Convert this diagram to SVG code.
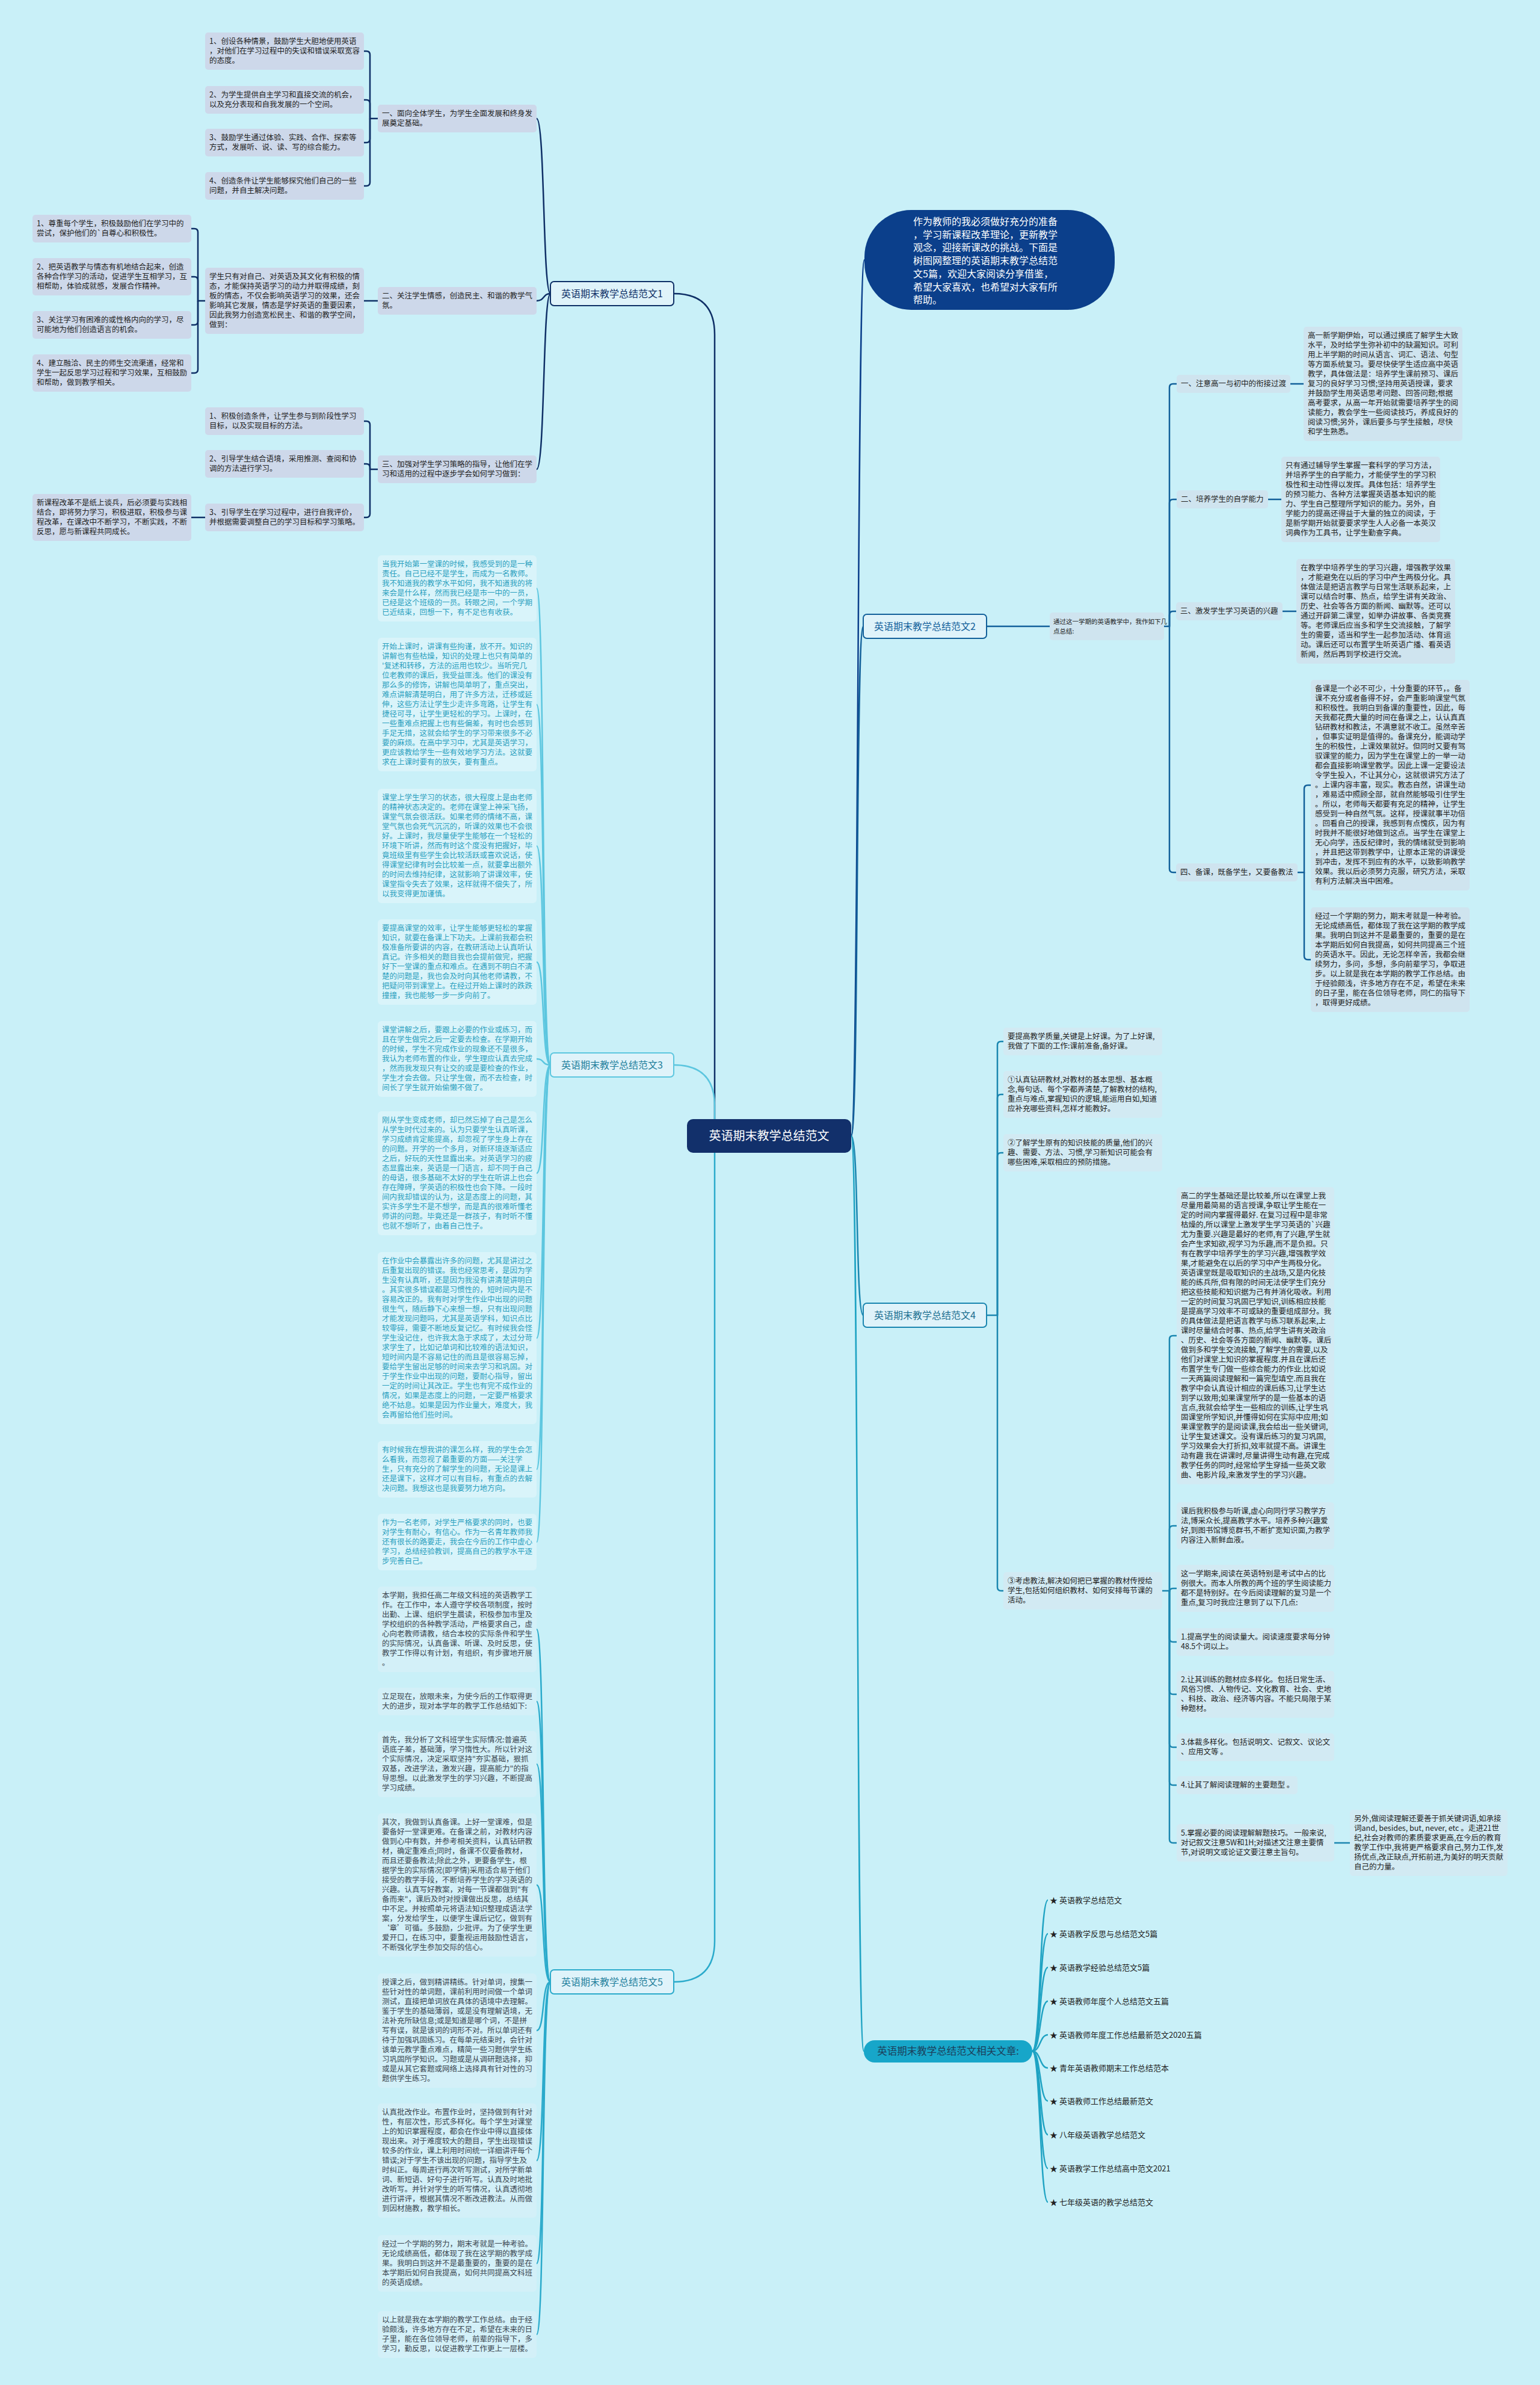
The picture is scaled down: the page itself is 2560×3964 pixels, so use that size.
<svg xmlns="http://www.w3.org/2000/svg" width="2560" height="3964" viewBox="0 0 2560 3964">
<style>
text{font-family:"Noto Sans CJK SC","Liberation Sans",sans-serif;}
.t{font-size:12.5px;fill:#222;}
.t3{font-size:12.5px;fill:#2a9fbe;}
.t5{font-size:12.5px;fill:#3b4650;}
.r1{fill:#cdd8ea;}
.r2{fill:#cfe4ef;}
.r3{fill:#d9f4fa;}
.r4{fill:#d2eaf3;}
.r5{fill:#d3f0f8;}
.c1{fill:none;stroke:#0e2f66;stroke-width:2.5;}
.c2{fill:none;stroke:#12609a;stroke-width:2.5;}
.c3{fill:none;stroke:#5cc6df;stroke-width:2.5;}
.c4{fill:none;stroke:#1b86b0;stroke-width:2.5;}
.c5{fill:none;stroke:#2aaacb;stroke-width:2.5;}
.c6{fill:none;stroke:#1fa3c3;stroke-width:2.5;}
.bn{font-size:16px;text-anchor:middle;}
</style>
<rect x="0" y="0" width="2560" height="3964" fill="#c9f0f8"/>

<g id="connectors">
<path class="c1" d="M1120 488 Q1188 488 1188 556 V1888"/>
<path class="c3" d="M1120 1770 Q1188 1770 1188 1838 V1888"/>
<path class="c5" d="M1120 3294 Q1188 3294 1188 3226 V1888"/>
<path class="c1" d="M1415 1888 C1428 1888 1424 432 1437 432" style="stroke:#0b3f8b"/>
<path class="c2" d="M1415 1888 C1428 1888 1422 1041 1435 1041"/>
<path class="c4" d="M1415 1888 C1428 1888 1422 2186 1435 2186"/>
<path class="c6" d="M1415 1888 C1428 1888 1423 3409 1436 3409"/>
<path class="c1" d="M915 488 C902 488 906 197 892 197"/>
<path class="c1" d="M915 488 C902 488 906 500 892 500"/>
<path class="c1" d="M915 488 C902 488 906 780 892 780"/>
<path class="c1" d="M628 197 H615 V91 Q615 85 609 85 H605"/>
<path class="c1" d="M615 197 V172 Q615 166 609 166 H605"/>
<path class="c1" d="M615 197 V231 Q615 237 609 237 H605"/>
<path class="c1" d="M615 197 V303 Q615 309 609 309 H605"/>
<path class="c1" d="M628 500 H605"/>
<path class="c1" d="M341 500 H329 V386 Q329 380 323 380 H318"/>
<path class="c1" d="M329 500 V466 Q329 460 323 460 H318"/>
<path class="c1" d="M329 500 V534 Q329 540 323 540 H318"/>
<path class="c1" d="M329 500 V614 Q329 620 323 620 H318"/>
<path class="c1" d="M628 780 H615 V706 Q615 700 609 700 H605"/>
<path class="c1" d="M615 780 V777 Q615 771 609 771 H605"/>
<path class="c1" d="M615 780 V854 Q615 860 609 860 H605"/>
<path class="c1" d="M341 860 H318"/>
<path class="c3" d="M915 1770 C900 1770 906 978 892 978"/>
<path class="c3" d="M915 1770 C900 1770 906 1171 892 1171"/>
<path class="c3" d="M915 1770 C900 1770 906 1406 892 1406"/>
<path class="c3" d="M915 1770 C900 1770 906 1599 892 1599"/>
<path class="c3" d="M915 1770 C900 1770 906 1760 892 1760"/>
<path class="c3" d="M915 1770 C900 1770 906 1950 892 1950"/>
<path class="c3" d="M915 1770 C900 1770 906 2224 892 2224"/>
<path class="c3" d="M915 1770 C900 1770 906 2442 892 2442"/>
<path class="c3" d="M915 1770 C900 1770 906 2563 892 2563"/>
<path class="c5" d="M915 3294 C900 3294 906 2708 892 2708"/>
<path class="c5" d="M915 3294 C900 3294 906 2828 892 2828"/>
<path class="c5" d="M915 3294 C900 3294 906 2932 892 2932"/>
<path class="c5" d="M915 3294 C900 3294 906 3133 892 3133"/>
<path class="c5" d="M915 3294 C900 3294 906 3375 892 3375"/>
<path class="c5" d="M915 3294 C900 3294 906 3591 892 3591"/>
<path class="c5" d="M915 3294 C900 3294 906 3762 892 3762"/>
<path class="c5" d="M915 3294 C900 3294 906 3880 892 3880"/>
<path class="c2" d="M1640 1041 H1745"/>
<path class="c2" d="M1935 1041 H1944 V644 Q1944 638 1950 638 H1956"/>
<path class="c2" d="M1944 1041 V836 Q1944 830 1950 830 H1956"/>
<path class="c2" d="M1944 1041 V1022 Q1944 1016 1950 1016 H1955"/>
<path class="c2" d="M1944 1041 V1444 Q1944 1450 1950 1450 H1955"/>
<path class="c2" d="M2145 638 H2167"/>
<path class="c2" d="M2108 830 H2130"/>
<path class="c2" d="M2132 1016 H2155"/>
<path class="c2" d="M2157 1450 H2168 V1311 Q2168 1305 2174 1305 H2179"/>
<path class="c2" d="M2168 1450 V1589 Q2168 1595 2174 1595 H2179"/>
<path class="c4" d="M1640 2186 H1658 V1737 Q1658 1731 1664 1731 H1668"/>
<path class="c4" d="M1658 2186 V1825 Q1658 1819 1664 1819 H1668"/>
<path class="c4" d="M1658 2186 V1922 Q1658 1916 1664 1916 H1668"/>
<path class="c4" d="M1658 2186 V2638 Q1658 2644 1664 2644 H1668"/>
<path class="c4" d="M1932 2644 H1944 V2226 Q1944 2220 1950 2220 H1956"/>
<path class="c4" d="M1944 2644 V2542 Q1944 2536 1950 2536 H1956"/>
<path class="c4" d="M1944 2644 V2646 Q1944 2640 1950 2640 H1956"/>
<path class="c4" d="M1944 2644 V2723 Q1944 2729 1950 2729 H1956"/>
<path class="c4" d="M1944 2644 V2810 Q1944 2816 1950 2816 H1956"/>
<path class="c4" d="M1944 2644 V2898 Q1944 2904 1950 2904 H1956"/>
<path class="c4" d="M1944 2644 V2961 Q1944 2967 1950 2967 H1956"/>
<path class="c4" d="M1944 2644 V3057 Q1944 3063 1950 3063 H1956"/>
<path class="c4" d="M2218 3063 H2244"/>
<path class="c6" d="M1716 3409 C1730 3409 1728 3158 1742 3158"/>
<path class="c6" d="M1716 3409 C1730 3409 1728 3214 1742 3214"/>
<path class="c6" d="M1716 3409 C1730 3409 1728 3270 1742 3270"/>
<path class="c6" d="M1716 3409 C1730 3409 1728 3326 1742 3326"/>
<path class="c6" d="M1716 3409 C1730 3409 1728 3382 1742 3382"/>
<path class="c6" d="M1716 3409 C1730 3409 1728 3437 1742 3437"/>
<path class="c6" d="M1716 3409 C1730 3409 1728 3492 1742 3492"/>
<path class="c6" d="M1716 3409 C1730 3409 1728 3548 1742 3548"/>
<path class="c6" d="M1716 3409 C1730 3409 1728 3604 1742 3604"/>
<path class="c6" d="M1716 3409 C1730 3409 1728 3660 1742 3660"/>
</g>

<g id="center">
<rect x="1142" y="1860" width="273" height="56" rx="10" fill="#12306b"/>
<text x="1278.5" y="1895" style="font-size:20px;fill:#fff;text-anchor:middle">英语期末教学总结范文</text>
</g>

<g id="intro">
<rect x="1437" y="349" width="416" height="166" rx="78" fill="#0b3f8b"/>
<text x="1518" y="374" style="font-size:16px;fill:#fff"><tspan x="1518" dy="0">作为教师的我必须做好充分的准备</tspan><tspan x="1518" dy="21.7">，学习新课程改革理论，更新教学</tspan><tspan x="1518" dy="21.7">观念，迎接新课改的挑战。下面是</tspan><tspan x="1518" dy="21.7">树图网整理的英语期末教学总结范</tspan><tspan x="1518" dy="21.7">文5篇，欢迎大家阅读分享借鉴，</tspan><tspan x="1518" dy="21.7">希望大家喜欢，也希望对大家有所</tspan><tspan x="1518" dy="21.7">帮助。</tspan></text>
</g>

<g id="branch1"><rect x="915" y="468" width="205" height="40" rx="6" fill="#dff3fa" stroke="#0e2f66" stroke-width="2"/><text class="bn" x="1017.5" y="494" style="fill:#0e2f66">英语期末教学总结范文1</text></g>
<g id="branch3"><rect x="915" y="1750" width="205" height="40" rx="6" fill="#dff3fa" stroke="#5cc6df" stroke-width="2"/><text class="bn" x="1017.5" y="1776" style="fill:#1f7f9c">英语期末教学总结范文3</text></g>
<g id="branch5"><rect x="915" y="3274" width="205" height="40" rx="6" fill="#dff3fa" stroke="#2aaacb" stroke-width="2"/><text class="bn" x="1017.5" y="3300" style="fill:#1f7f9c">英语期末教学总结范文5</text></g>
<g id="branch2"><rect x="1435" y="1021" width="205" height="40" rx="6" fill="#dff3fa" stroke="#12609a" stroke-width="2"/><text class="bn" x="1537.5" y="1047" style="fill:#12609a">英语期末教学总结范文2</text></g>
<g id="branch4"><rect x="1435" y="2166" width="205" height="40" rx="6" fill="#dff3fa" stroke="#1b86b0" stroke-width="2"/><text class="bn" x="1537.5" y="2192" style="fill:#1b6f90">英语期末教学总结范文4</text></g>
<g id="branch6"><rect x="1436" y="3391" width="280" height="37" rx="18" fill="#17a6c9"/><text x="1576" y="3415" style="font-size:16.5px;fill:#1c3e5a;text-anchor:middle">英语期末教学总结范文相关文章:</text></g>

<g id="b1-sub1"><rect class="r1" x="628" y="174" width="264" height="46" rx="5"/><text class="t" x="635" y="193"><tspan x="635" dy="0">一、面向全体学生，为学生全面发展和终身发</tspan><tspan x="635" dy="16">展奠定基础。</tspan></text></g>
<g id="b1-s1-c1"><rect class="r1" x="341" y="54" width="264" height="62" rx="5"/><text class="t" x="348" y="73"><tspan x="348" dy="0">1、创设各种情景，鼓励学生大胆地使用英语</tspan><tspan x="348" dy="16">，对他们在学习过程中的失误和错误采取宽容</tspan><tspan x="348" dy="16">的态度。</tspan></text></g>
<g id="b1-s1-c2"><rect class="r1" x="341" y="143" width="264" height="46" rx="5"/><text class="t" x="348" y="162"><tspan x="348" dy="0">2、为学生提供自主学习和直接交流的机会，</tspan><tspan x="348" dy="16">以及充分表现和自我发展的一个空间。</tspan></text></g>
<g id="b1-s1-c3"><rect class="r1" x="341" y="214" width="264" height="46" rx="5"/><text class="t" x="348" y="233"><tspan x="348" dy="0">3、鼓励学生通过体验、实践、合作、探索等</tspan><tspan x="348" dy="16">方式，发展听、说、读、写的综合能力。</tspan></text></g>
<g id="b1-s1-c4"><rect class="r1" x="341" y="286" width="264" height="46" rx="5"/><text class="t" x="348" y="305"><tspan x="348" dy="0">4、创造条件让学生能够探究他们自己的一些</tspan><tspan x="348" dy="16">问题，并自主解决问题。</tspan></text></g>

<g id="b1-sub2"><rect class="r1" x="628" y="477" width="264" height="46" rx="5"/><text class="t" x="635" y="496"><tspan x="635" dy="0">二、关注学生情感，创造民主、和谐的教学气</tspan><tspan x="635" dy="16">氛。</tspan></text></g>
<g id="b1-s2-mid"><rect class="r1" x="341" y="445" width="264" height="110" rx="5"/><text class="t" x="348" y="464"><tspan x="348" dy="0">学生只有对自己、对英语及其文化有积极的情</tspan><tspan x="348" dy="16">态，才能保持英语学习的动力并取得成绩，刻</tspan><tspan x="348" dy="16">板的情态，不仅会影响英语学习的效果，还会</tspan><tspan x="348" dy="16">影响其它发展，情态是学好英语的重要因素，</tspan><tspan x="348" dy="16">因此我努力创造宽松民主、和谐的教学空间，</tspan><tspan x="348" dy="16">做到：</tspan></text></g>
<g id="b1-s2-c1"><rect class="r1" x="54" y="357" width="264" height="46" rx="5"/><text class="t" x="61" y="376"><tspan x="61" dy="0">1、尊重每个学生，积极鼓励他们在学习中的</tspan><tspan x="61" dy="16">尝试，保护他们的`自尊心和积极性。</tspan></text></g>
<g id="b1-s2-c2"><rect class="r1" x="54" y="429" width="264" height="62" rx="5"/><text class="t" x="61" y="448"><tspan x="61" dy="0">2、把英语教学与情态有机地结合起来，创造</tspan><tspan x="61" dy="16">各种合作学习的活动，促进学生互相学习，互</tspan><tspan x="61" dy="16">相帮助，体验成就感，发展合作精神。</tspan></text></g>
<g id="b1-s2-c3"><rect class="r1" x="54" y="517" width="264" height="46" rx="5"/><text class="t" x="61" y="536"><tspan x="61" dy="0">3、关注学习有困难的或性格内向的学习，尽</tspan><tspan x="61" dy="16">可能地为他们创造语言的机会。</tspan></text></g>
<g id="b1-s2-c4"><rect class="r1" x="54" y="589" width="264" height="62" rx="5"/><text class="t" x="61" y="608"><tspan x="61" dy="0">4、建立融洽、民主的师生交流渠道，经常和</tspan><tspan x="61" dy="16">学生一起反思学习过程和学习效果，互相鼓励</tspan><tspan x="61" dy="16">和帮助，做到教学相关。</tspan></text></g>

<g id="b1-sub3"><rect class="r1" x="628" y="757" width="264" height="46" rx="5"/><text class="t" x="635" y="776"><tspan x="635" dy="0">三、加强对学生学习策略的指导，让他们在学</tspan><tspan x="635" dy="16">习和适用的过程中逐步学会如何学习做到：</tspan></text></g>
<g id="b1-s3-c1"><rect class="r1" x="341" y="677" width="264" height="46" rx="5"/><text class="t" x="348" y="696"><tspan x="348" dy="0">1、积极创造条件，让学生参与到阶段性学习</tspan><tspan x="348" dy="16">目标，以及实现目标的方法。</tspan></text></g>
<g id="b1-s3-c2"><rect class="r1" x="341" y="748" width="264" height="46" rx="5"/><text class="t" x="348" y="767"><tspan x="348" dy="0">2、引导学生结合语境，采用推测、查阅和协</tspan><tspan x="348" dy="16">调的方法进行学习。</tspan></text></g>
<g id="b1-s3-c3"><rect class="r1" x="341" y="837" width="264" height="46" rx="5"/><text class="t" x="348" y="856"><tspan x="348" dy="0">3、引导学生在学习过程中，进行自我评价，</tspan><tspan x="348" dy="16">并根据需要调整自己的学习目标和学习策略。</tspan></text></g>
<g id="b1-s3-leaf"><rect class="r1" x="54" y="821" width="264" height="78" rx="5"/><text class="t" x="61" y="840"><tspan x="61" dy="0">新课程改革不是纸上谈兵，后必须要与实践相</tspan><tspan x="61" dy="16">结合，即将努力学习，积极进取，积极参与课</tspan><tspan x="61" dy="16">程改革，在课改中不断学习，不断实践，不断</tspan><tspan x="61" dy="16">反思，愿与新课程共同成长。</tspan></text></g>

<g id="b3-c1"><rect class="r3" x="628" y="923" width="264" height="110" rx="6"/><text class="t3" x="635" y="942"><tspan x="635" dy="0">当我开始第一堂课的时候，我感受到的是一种</tspan><tspan x="635" dy="16">责任。自己已经不是学生，而成为一名教师。</tspan><tspan x="635" dy="16">我不知道我的教学水平如何，我不知道我的将</tspan><tspan x="635" dy="16">来会是什么样，然而我已经是市一中的一员，</tspan><tspan x="635" dy="16">已经是这个班级的一员。转眼之间，一个学期</tspan><tspan x="635" dy="16">已近结束，回想一下，有不足也有收获。</tspan></text></g>
<g id="b3-c2"><rect class="r3" x="628" y="1060" width="264" height="222" rx="6"/><text class="t3" x="635" y="1079"><tspan x="635" dy="0">开始上课时，讲课有些拘谨，放不开。知识的</tspan><tspan x="635" dy="16">讲解也有些枯燥，知识的处理上也只有简单的</tspan><tspan x="635" dy="16">'复述和转移，方法的运用也较少。当听完几</tspan><tspan x="635" dy="16">位老教师的课后，我受益匪浅。他们的课没有</tspan><tspan x="635" dy="16">那么多的修饰，讲解也简单明了，重点突出，</tspan><tspan x="635" dy="16">难点讲解清楚明白，用了许多方法，迁移或延</tspan><tspan x="635" dy="16">伸，这些方法让学生少走许多弯路，让学生有</tspan><tspan x="635" dy="16">捷径可寻，让学生更轻松的学习。上课时，在</tspan><tspan x="635" dy="16">一些重难点把握上也有些偏差，有时也会感到</tspan><tspan x="635" dy="16">手足无措，这就会给学生的学习带来很多不必</tspan><tspan x="635" dy="16">要的麻烦。在高中学习中，尤其是英语学习，</tspan><tspan x="635" dy="16">更应该教给学生一些有效地学习方法。这就要</tspan><tspan x="635" dy="16">求在上课时要有的放矢，要有重点。</tspan></text></g>
<g id="b3-c3"><rect class="r3" x="628" y="1311" width="264" height="190" rx="6"/><text class="t3" x="635" y="1330"><tspan x="635" dy="0">课堂上学生学习的状态，很大程度上是由老师</tspan><tspan x="635" dy="16">的精神状态决定的。老师在课堂上神采飞扬，</tspan><tspan x="635" dy="16">课堂气氛会很活跃。如果老师的情绪不高，课</tspan><tspan x="635" dy="16">堂气氛也会死气沉沉的，听课的效果也不会很</tspan><tspan x="635" dy="16">好。上课时，我尽量使学生能够在一个轻松的</tspan><tspan x="635" dy="16">环境下听讲，然而有时这个度没有把握好，毕</tspan><tspan x="635" dy="16">竟班级里有些学生会比较活跃或喜欢说话，使</tspan><tspan x="635" dy="16">得课堂纪律有时会比较差一点，就要拿出额外</tspan><tspan x="635" dy="16">的时间去维持纪律，这就影响了讲课效率，使</tspan><tspan x="635" dy="16">课堂指令失去了效果，这样就得不偿失了，所</tspan><tspan x="635" dy="16">以我变得更加谨慎。</tspan></text></g>
<g id="b3-c4"><rect class="r3" x="628" y="1528" width="264" height="142" rx="6"/><text class="t3" x="635" y="1547"><tspan x="635" dy="0">要提高课堂的效率，让学生能够更轻松的掌握</tspan><tspan x="635" dy="16">知识，就要在备课上下功夫。上课前我都会积</tspan><tspan x="635" dy="16">极准备所要讲的内容，在教研活动上认真听认</tspan><tspan x="635" dy="16">真记。许多相关的题目我也会提前做完，把握</tspan><tspan x="635" dy="16">好下一堂课的重点和难点。在遇到不明白不清</tspan><tspan x="635" dy="16">楚的问题是，我也会及时向其他老师请教，不</tspan><tspan x="635" dy="16">把疑问带到课堂上。在经过开始上课时的跌跌</tspan><tspan x="635" dy="16">撞撞，我也能够一步一步向前了。</tspan></text></g>
<g id="b3-c5"><rect class="r3" x="628" y="1697" width="264" height="126" rx="6"/><text class="t3" x="635" y="1716"><tspan x="635" dy="0">课堂讲解之后，要跟上必要的作业或练习，而</tspan><tspan x="635" dy="16">且在学生做完之后一定要去检查。在学期开始</tspan><tspan x="635" dy="16">的时候，学生不完成作业的现象还不是很多，</tspan><tspan x="635" dy="16">我认为老师布置的作业，学生理应认真去完成</tspan><tspan x="635" dy="16">，然而我发现只有让交的或是要检查的作业，</tspan><tspan x="635" dy="16">学生才会去做。只让学生做，而不去检查，时</tspan><tspan x="635" dy="16">间长了学生就开始偷懒不做了。</tspan></text></g>
<g id="b3-c6"><rect class="r3" x="628" y="1847" width="264" height="206" rx="6"/><text class="t3" x="635" y="1866"><tspan x="635" dy="0">刚从学生变成老师，却已然忘掉了自己是怎么</tspan><tspan x="635" dy="16">从学生时代过来的。认为只要学生认真听课，</tspan><tspan x="635" dy="16">学习成绩肯定能提高，却忽视了学生身上存在</tspan><tspan x="635" dy="16">的问题。开学的一个多月，对新环境逐渐适应</tspan><tspan x="635" dy="16">之后，好玩的天性显露出来。对英语学习的疲</tspan><tspan x="635" dy="16">态显露出来，英语是一门语言，却不同于自己</tspan><tspan x="635" dy="16">的母语，很多基础不太好的学生在听讲上也会</tspan><tspan x="635" dy="16">存在障碍，学英语的积极性也会下降。一段时</tspan><tspan x="635" dy="16">间内我却错误的认为，这是态度上的问题，其</tspan><tspan x="635" dy="16">实许多学生不是不想学，而是真的很难听懂老</tspan><tspan x="635" dy="16">师讲的问题。毕竟还是一群孩子，有时听不懂</tspan><tspan x="635" dy="16">也就不想听了，由着自己性子。</tspan></text></g>
<g id="b3-c7"><rect class="r3" x="628" y="2081" width="264" height="286" rx="6"/><text class="t3" x="635" y="2100"><tspan x="635" dy="0">在作业中会暴露出许多的问题，尤其是讲过之</tspan><tspan x="635" dy="16">后重复出现的错误。我也经常思考，是因为学</tspan><tspan x="635" dy="16">生没有认真听，还是因为我没有讲清楚讲明白</tspan><tspan x="635" dy="16">。其实很多错误都是习惯性的，短时间内是不</tspan><tspan x="635" dy="16">容易改正的。我有时对学生作业中出现的问题</tspan><tspan x="635" dy="16">很生气，随后静下心来想一想，只有出现问题</tspan><tspan x="635" dy="16">才能发现问题吗，尤其是英语学科，知识点比</tspan><tspan x="635" dy="16">较零碎，需要不断地反复记忆。有时候我会怪</tspan><tspan x="635" dy="16">学生没记住，也许我太急于求成了，太过分苛</tspan><tspan x="635" dy="16">求学生了，比如记单词和比较难的语法知识，</tspan><tspan x="635" dy="16">短时间内是不容易记住的而且是很容易忘掉，</tspan><tspan x="635" dy="16">要给学生留出足够的时间来去学习和巩固。对</tspan><tspan x="635" dy="16">于学生作业中出现的问题，要耐心指导，留出</tspan><tspan x="635" dy="16">一定的时间让其改正。学生也有完不成作业的</tspan><tspan x="635" dy="16">情况，如果是态度上的问题，一定要严格要求</tspan><tspan x="635" dy="16">绝不姑息。如果是因为作业量大，难度大，我</tspan><tspan x="635" dy="16">会再留给他们些时间。</tspan></text></g>
<g id="b3-c8"><rect class="r3" x="628" y="2395" width="264" height="94" rx="6"/><text class="t3" x="635" y="2414"><tspan x="635" dy="0">有时候我在想我讲的课怎么样，我的学生会怎</tspan><tspan x="635" dy="16">么看我，而忽视了最重要的方面——关注学</tspan><tspan x="635" dy="16">生，只有充分的了解学生的问题，无论是课上</tspan><tspan x="635" dy="16">还是课下，这样才可以有目标，有重点的去解</tspan><tspan x="635" dy="16">决问题。我想这也是我要努力地方向。</tspan></text></g>
<g id="b3-c9"><rect class="r3" x="628" y="2516" width="264" height="94" rx="6"/><text class="t3" x="635" y="2535"><tspan x="635" dy="0">作为一名老师，对学生严格要求的同时，也要</tspan><tspan x="635" dy="16">对学生有耐心，有信心。作为一名青年教师我</tspan><tspan x="635" dy="16">还有很长的路要走，我会在今后的工作中虚心</tspan><tspan x="635" dy="16">学习，总结经验教训，提高自己的教学水平逐</tspan><tspan x="635" dy="16">步完善自己。</tspan></text></g>

<g id="b5-c1"><rect class="r5" x="628" y="2637" width="264" height="142" rx="6"/><text class="t5" x="635" y="2656"><tspan x="635" dy="0">本学期，我担任高二年级文科班的英语教学工</tspan><tspan x="635" dy="16">作。在工作中，本人遵守学校各项制度，按时</tspan><tspan x="635" dy="16">出勤、上课、组织学生晨读，积极参加市里及</tspan><tspan x="635" dy="16">学校组织的各种教学活动，严格要求自己，虚</tspan><tspan x="635" dy="16">心向老教师请教，结合本校的实际条件和学生</tspan><tspan x="635" dy="16">的实际情况，认真备课、听课、及时反思，使</tspan><tspan x="635" dy="16">教学工作得以有计划，有组织，有步骤地开展</tspan><tspan x="635" dy="16">。</tspan></text></g>
<g id="b5-c2"><rect class="r5" x="628" y="2805" width="264" height="46" rx="6"/><text class="t5" x="635" y="2824"><tspan x="635" dy="0">立足现在，放眼未来，为使今后的工作取得更</tspan><tspan x="635" dy="16">大的进步，现对本学年的教学工作总结如下:</tspan></text></g>
<g id="b5-c3"><rect class="r5" x="628" y="2877" width="264" height="110" rx="6"/><text class="t5" x="635" y="2896"><tspan x="635" dy="0">首先，我分析了文科班学生实际情况:普遍英</tspan><tspan x="635" dy="16">语底子差，基础薄，学习惰性大。所以针对这</tspan><tspan x="635" dy="16">个实际情况，决定采取坚持"夯实基础，狠抓</tspan><tspan x="635" dy="16">双基，改进学法，激发兴趣，提高能力"的指</tspan><tspan x="635" dy="16">导思想。以此激发学生的学习兴趣，不断提高</tspan><tspan x="635" dy="16">学习成绩。</tspan></text></g>
<g id="b5-c4"><rect class="r5" x="628" y="3014" width="264" height="238" rx="6"/><text class="t5" x="635" y="3033"><tspan x="635" dy="0">其次，我做到认真备课。上好一堂课难，但是</tspan><tspan x="635" dy="16">要备好一堂课更难。在备课之前，对教材内容</tspan><tspan x="635" dy="16">做到心中有数，并参考相关资料，认真钻研教</tspan><tspan x="635" dy="16">材，确定重难点;同时，备课不仅要备教材，</tspan><tspan x="635" dy="16">而且还要备教法;除此之外，更要备学生，根</tspan><tspan x="635" dy="16">据学生的实际情况(即学情)采用适合易于他们</tspan><tspan x="635" dy="16">接受的教学手段，不断培养学生的学习英语的</tspan><tspan x="635" dy="16">兴趣。认真写好教案，对每一节课都做到"有</tspan><tspan x="635" dy="16">备而来"，课后及时对授课做出反思，总结其</tspan><tspan x="635" dy="16">中不足。并按照单元将语法知识整理成语法学</tspan><tspan x="635" dy="16">案，分发给学生，以便学生课后记忆，做到有</tspan><tspan x="635" dy="16">‘章’可循。多鼓励，少批评。为了使学生更</tspan><tspan x="635" dy="16">爱开口，在练习中，要重视运用鼓励性语言，</tspan><tspan x="635" dy="16">不断强化学生参加交际的信心。</tspan></text></g>
<g id="b5-c5"><rect class="r5" x="628" y="3280" width="264" height="190" rx="6"/><text class="t5" x="635" y="3299"><tspan x="635" dy="0">授课之后，做到精讲精练。针对单词，搜集一</tspan><tspan x="635" dy="16">些针对性的单词题，课前利用时间做一个单词</tspan><tspan x="635" dy="16">测试，直接把单词放在具体的语境中去理解。</tspan><tspan x="635" dy="16">鉴于学生的基础薄弱，或是没有理解语境，无</tspan><tspan x="635" dy="16">法补充所缺信息;或是知道是哪个词，不是拼</tspan><tspan x="635" dy="16">写有误，就是该词的词形不对。所以单词还有</tspan><tspan x="635" dy="16">待于加强巩固练习。在每单元结束时，会针对</tspan><tspan x="635" dy="16">该单元教学重点难点，精简一些习题供学生练</tspan><tspan x="635" dy="16">习巩固所学知识。习题或是从调研题选择，抑</tspan><tspan x="635" dy="16">或是从其它套题或网络上选择具有针对性的习</tspan><tspan x="635" dy="16">题供学生练习。</tspan></text></g>
<g id="b5-c6"><rect class="r5" x="628" y="3496" width="264" height="190" rx="6"/><text class="t5" x="635" y="3515"><tspan x="635" dy="0">认真批改作业。布置作业时，坚持做到有针对</tspan><tspan x="635" dy="16">性，有层次性，形式多样化。每个学生对课堂</tspan><tspan x="635" dy="16">上的知识掌握程度，都会在作业中得以直接体</tspan><tspan x="635" dy="16">现出来。对于难度较大的题目，学生出现错误</tspan><tspan x="635" dy="16">较多的作业，课上利用时间统一详细讲评每个</tspan><tspan x="635" dy="16">错误;对于学生不该出现的问题，指导学生及</tspan><tspan x="635" dy="16">时纠正。每周进行两次听写测试，对所学新单</tspan><tspan x="635" dy="16">词、新短语、好句子进行听写。认真及时地批</tspan><tspan x="635" dy="16">改听写。并针对学生的听写情况，认真透彻地</tspan><tspan x="635" dy="16">进行讲评，根据其情况不断改进教法。从而做</tspan><tspan x="635" dy="16">到因材施教，教学相长。</tspan></text></g>
<g id="b5-c7"><rect class="r5" x="628" y="3715" width="264" height="94" rx="6"/><text class="t5" x="635" y="3734"><tspan x="635" dy="0">经过一个学期的努力，期末考就是一种考验。</tspan><tspan x="635" dy="16">无论成绩高低，都体现了我在这学期的教学成</tspan><tspan x="635" dy="16">果。我明白到这并不是最重要的，重要的是在</tspan><tspan x="635" dy="16">本学期后如何自我提高，如何共同提高文科班</tspan><tspan x="635" dy="16">的英语成绩。</tspan></text></g>
<g id="b5-c8"><rect class="r5" x="628" y="3841" width="264" height="78" rx="6"/><text class="t5" x="635" y="3860"><tspan x="635" dy="0">以上就是我在本学期的教学工作总结。由于经</tspan><tspan x="635" dy="16">验颇浅，许多地方存在不足，希望在未来的日</tspan><tspan x="635" dy="16">子里，能在各位领导老师，前辈的指导下，多</tspan><tspan x="635" dy="16">学习，勤反思，以促进教学工作更上一层楼。</tspan></text></g>

<g id="b2-label"><rect class="r2" x="1745" y="1018" width="190" height="46" rx="5"/><text class="t" x="1751" y="1037" style="font-size:10.5px"><tspan x="1751" dy="0">通过这一学期的英语教学中，我作如下几</tspan><tspan x="1751" dy="16">点总结:</tspan></text></g>
<g id="b2-sub1"><rect class="r2" x="1956" y="623" width="189" height="30" rx="5"/><text class="t" x="1963" y="642">一、注意高一与初中的衔接过渡</text></g>
<g id="b2-box1"><rect class="r2" x="2167" y="543" width="264" height="190" rx="5"/><text class="t" x="2174" y="562"><tspan x="2174" dy="0">高一新学期伊始，可以通过摸底了解学生大致</tspan><tspan x="2174" dy="16">水平，及时给学生弥补初中的缺漏知识。可利</tspan><tspan x="2174" dy="16">用上半学期的时间从语言、词汇、语法、句型</tspan><tspan x="2174" dy="16">等方面系统复习。要尽快使学生适应高中英语</tspan><tspan x="2174" dy="16">教学，具体做法是：培养学生课前预习、课后</tspan><tspan x="2174" dy="16">复习的良好学习习惯;坚持用英语授课，要求</tspan><tspan x="2174" dy="16">并鼓励学生用英语思考问题、回答问题;根据</tspan><tspan x="2174" dy="16">高考要求，从高一年开始就需要培养学生的阅</tspan><tspan x="2174" dy="16">读能力，教会学生一些阅读技巧，养成良好的</tspan><tspan x="2174" dy="16">阅读习惯;另外，课后要多与学生接触，尽快</tspan><tspan x="2174" dy="16">和学生熟悉。</tspan></text></g>
<g id="b2-sub2"><rect class="r2" x="1956" y="815" width="152" height="30" rx="5"/><text class="t" x="1963" y="834">二、培养学生的自学能力</text></g>
<g id="b2-box2"><rect class="r2" x="2130" y="759" width="264" height="142" rx="5"/><text class="t" x="2137" y="778"><tspan x="2137" dy="0">只有通过辅导学生掌握一套科学的学习方法，</tspan><tspan x="2137" dy="16">并培养学生的自学能力，才能使学生的学习积</tspan><tspan x="2137" dy="16">极性和主动性得以发挥。具体包括：培养学生</tspan><tspan x="2137" dy="16">的预习能力、各种方法掌握英语基本知识的能</tspan><tspan x="2137" dy="16">力、学生自己整理所学知识的能力。另外，自</tspan><tspan x="2137" dy="16">学能力的提高还得益于大量的独立的阅读，于</tspan><tspan x="2137" dy="16">是新学期开始就要要求学生人人必备一本英汉</tspan><tspan x="2137" dy="16">词典作为工具书，让学生勤查字典。</tspan></text></g>
<g id="b2-sub3"><rect class="r2" x="1955" y="1001" width="177" height="30" rx="5"/><text class="t" x="1962" y="1020">三、激发学生学习英语的兴趣</text></g>
<g id="b2-box3"><rect class="r2" x="2155" y="929" width="264" height="174" rx="5"/><text class="t" x="2162" y="948"><tspan x="2162" dy="0">在教学中培养学生的学习兴趣，增强教学效果</tspan><tspan x="2162" dy="16">，才能避免在以后的学习中产生两极分化。具</tspan><tspan x="2162" dy="16">体做法是把语言教学与日常生活联系起来，上</tspan><tspan x="2162" dy="16">课可以结合时事、热点，给学生讲有关政治、</tspan><tspan x="2162" dy="16">历史、社会等各方面的新闻、幽默等。还可以</tspan><tspan x="2162" dy="16">通过开辟第二课堂，如举办讲故事、各类竞赛</tspan><tspan x="2162" dy="16">等。老师课后应当多和学生交流接触，了解学</tspan><tspan x="2162" dy="16">生的需要，适当和学生一起参加活动、体育运</tspan><tspan x="2162" dy="16">动。课后还可以布置学生听英语广播、看英语</tspan><tspan x="2162" dy="16">新闻，然后再到学校进行交流。</tspan></text></g>
<g id="b2-sub4"><rect class="r2" x="1955" y="1435" width="202" height="30" rx="5"/><text class="t" x="1962" y="1454">四、备课，既备学生，又要备教法</text></g>
<g id="b2-box4a"><rect class="r2" x="2179" y="1130" width="264" height="350" rx="5"/><text class="t" x="2186" y="1149"><tspan x="2186" dy="0">备课是一个必不可少，十分重要的环节，。备</tspan><tspan x="2186" dy="16">课不充分或者备得不好，会严重影响课堂气氛</tspan><tspan x="2186" dy="16">和积极性。我明白到备课的重要性，因此，每</tspan><tspan x="2186" dy="16">天我都花费大量的时间在备课之上，认认真真</tspan><tspan x="2186" dy="16">钻研教材和教法，不满意就不收工。虽然辛苦</tspan><tspan x="2186" dy="16">，但事实证明是值得的。备课充分，能调动学</tspan><tspan x="2186" dy="16">生的积极性，上课效果就好。但同时又要有驾</tspan><tspan x="2186" dy="16">驭课堂的能力，因为学生在课堂上的一举一动</tspan><tspan x="2186" dy="16">都会直接影响课堂教学。因此上课一定要设法</tspan><tspan x="2186" dy="16">令学生投入，不让其分心，这就很讲究方法了</tspan><tspan x="2186" dy="16">。上课内容丰富，现实。教态自然，讲课生动</tspan><tspan x="2186" dy="16">，难易适中照顾全部，就自然能够吸引住学生</tspan><tspan x="2186" dy="16">。所以，老师每天都要有充足的精神，让学生</tspan><tspan x="2186" dy="16">感受到一种自然气氛。这样，授课就事半功倍</tspan><tspan x="2186" dy="16">。回看自己的授课，我感到有点愧疚，因为有</tspan><tspan x="2186" dy="16">时我并不能很好地做到这点。当学生在课堂上</tspan><tspan x="2186" dy="16">无心向学，违反纪律时，我的情绪就受到影响</tspan><tspan x="2186" dy="16">，并且把这带到教学中，让原本正常的讲课受</tspan><tspan x="2186" dy="16">到冲击，发挥不到应有的水平，以致影响教学</tspan><tspan x="2186" dy="16">效果。我以后必须努力克服，研究方法，采取</tspan><tspan x="2186" dy="16">有利方法解决当中困难。</tspan></text></g>
<g id="b2-box4b"><rect class="r2" x="2179" y="1508" width="264" height="174" rx="5"/><text class="t" x="2186" y="1527"><tspan x="2186" dy="0">经过一个学期的努力，期末考就是一种考验。</tspan><tspan x="2186" dy="16">无论成绩高低，都体现了我在这学期的教学成</tspan><tspan x="2186" dy="16">果。我明白到这并不是最重要的，重要的是在</tspan><tspan x="2186" dy="16">本学期后如何自我提高，如何共同提高三个班</tspan><tspan x="2186" dy="16">的英语水平。因此，无论怎样辛苦，我都会继</tspan><tspan x="2186" dy="16">续努力，多问，多想，多向前辈学习，争取进</tspan><tspan x="2186" dy="16">步。以上就是我在本学期的教学工作总结。由</tspan><tspan x="2186" dy="16">于经验颇浅，许多地方存在不足，希望在未来</tspan><tspan x="2186" dy="16">的日子里，能在各位领导老师，同仁的指导下</tspan><tspan x="2186" dy="16">，取得更好成绩。</tspan></text></g>

<g id="b4-c1"><rect class="r4" x="1668" y="1708" width="264" height="46" rx="5"/><text class="t" x="1675" y="1727"><tspan x="1675" dy="0">要提高教学质量,关键是上好课。为了上好课,</tspan><tspan x="1675" dy="16">我做了下面的工作:课前准备,备好课。</tspan></text></g>
<g id="b4-c2"><rect class="r4" x="1668" y="1780" width="264" height="78" rx="5"/><text class="t" x="1675" y="1799"><tspan x="1675" dy="0">①认真钻研教材,对教材的基本思想、基本概</tspan><tspan x="1675" dy="16">念,每句话、每个字都弄清楚,了解教材的结构,</tspan><tspan x="1675" dy="16">重点与难点,掌握知识的逻辑,能运用自如,知道</tspan><tspan x="1675" dy="16">应补充哪些资料,怎样才能教好。</tspan></text></g>
<g id="b4-c3"><rect class="r4" x="1668" y="1885" width="264" height="62" rx="5"/><text class="t" x="1675" y="1904"><tspan x="1675" dy="0">②了解学生原有的知识技能的质量,他们的兴</tspan><tspan x="1675" dy="16">趣、需要、方法、习惯,学习新知识可能会有</tspan><tspan x="1675" dy="16">哪些困难,采取相应的预防措施。</tspan></text></g>
<g id="b4-c4"><rect class="r4" x="1668" y="2613" width="264" height="62" rx="5"/><text class="t" x="1675" y="2632"><tspan x="1675" dy="0">③考虑教法,解决如何把已掌握的教材传授给</tspan><tspan x="1675" dy="16">学生,包括如何组织教材、如何安排每节课的</tspan><tspan x="1675" dy="16">活动。</tspan></text></g>
<g id="b4-d1"><rect class="r4" x="1956" y="1973" width="262" height="494" rx="5"/><text class="t" x="1963" y="1992"><tspan x="1963" dy="0">高二的学生基础还是比较差,所以在课堂上我</tspan><tspan x="1963" dy="16">尽量用最简易的语言授课,争取让学生能在一</tspan><tspan x="1963" dy="16">定的时间内掌握得最好. 在复习过程中是非常</tspan><tspan x="1963" dy="16">枯燥的,所以课堂上激发学生学习英语的`兴趣</tspan><tspan x="1963" dy="16">尤为重要.兴趣是最好的老师,有了兴趣,学生就</tspan><tspan x="1963" dy="16">会产生求知欲,视学习为乐趣,而不是负担。只</tspan><tspan x="1963" dy="16">有在教学中培养学生的学习兴趣,增强教学效</tspan><tspan x="1963" dy="16">果,才能避免在以后的学习中产生两极分化。</tspan><tspan x="1963" dy="16">英语课堂既是吸取知识的主战场,又是内化技</tspan><tspan x="1963" dy="16">能的练兵所,但有限的时间无法使学生们充分</tspan><tspan x="1963" dy="16">把这些技能和知识据为己有并消化吸收。利用</tspan><tspan x="1963" dy="16">一定的时间复习巩固已学知识,训练相应技能</tspan><tspan x="1963" dy="16">是提高学习效率不可或缺的重要组成部分。我</tspan><tspan x="1963" dy="16">的具体做法是把语言教学与练习联系起来,上</tspan><tspan x="1963" dy="16">课时尽量结合时事、热点,给学生讲有关政治</tspan><tspan x="1963" dy="16">、历史、社会等各方面的新闻、幽默等。课后</tspan><tspan x="1963" dy="16">做到多和学生交流接触,了解学生的需要,以及</tspan><tspan x="1963" dy="16">他们对课堂上知识的掌握程度.并且在课后还</tspan><tspan x="1963" dy="16">布置学生专门做一些综合能力的作业.比如说</tspan><tspan x="1963" dy="16">一天两篇阅读理解和一篇完型填空.而且我在</tspan><tspan x="1963" dy="16">教学中会认真设计相应的课后练习,让学生达</tspan><tspan x="1963" dy="16">到学以致用;如果课堂所学的是一些基本的语</tspan><tspan x="1963" dy="16">言点,我就会给学生一些相应的训练,让学生巩</tspan><tspan x="1963" dy="16">固课堂所学知识,并懂得如何在实际中应用;如</tspan><tspan x="1963" dy="16">果课堂教学的是阅读课,我会给出一些关键词,</tspan><tspan x="1963" dy="16">让学生复述课文。没有课后练习的复习巩固,</tspan><tspan x="1963" dy="16">学习效果会大打折扣,效率就提不高。讲课生</tspan><tspan x="1963" dy="16">动有趣 我在讲课时,尽量讲得生动有趣,在完成</tspan><tspan x="1963" dy="16">教学任务的同时,经常给学生穿插一些英文歌</tspan><tspan x="1963" dy="16">曲、电影片段,来激发学生的学习兴趣。</tspan></text></g>
<g id="b4-d2"><rect class="r4" x="1956" y="2497" width="262" height="78" rx="5"/><text class="t" x="1963" y="2516"><tspan x="1963" dy="0">课后我积极参与听课,虚心向同行学习教学方</tspan><tspan x="1963" dy="16">法,博采众长,提高教学水平。培养多种兴趣爱</tspan><tspan x="1963" dy="16">好,到图书馆博览群书,不断扩宽知识面,为教学</tspan><tspan x="1963" dy="16">内容注入新鲜血液。</tspan></text></g>
<g id="b4-d3"><rect class="r4" x="1956" y="2601" width="262" height="78" rx="5"/><text class="t" x="1963" y="2620"><tspan x="1963" dy="0">这一学期来,阅读在英语特别是考试中占的比</tspan><tspan x="1963" dy="16">例很大。而本人所教的两个班的学生阅读能力</tspan><tspan x="1963" dy="16">都不是特别好。在今后阅读理解的复习是一个</tspan><tspan x="1963" dy="16">重点,复习时我应注意到了以下几点:</tspan></text></g>
<g id="b4-d4"><rect class="r4" x="1956" y="2706" width="262" height="46" rx="5"/><text class="t" x="1963" y="2725"><tspan x="1963" dy="0">1.提高学生的阅读量大。阅读速度要求每分钟</tspan><tspan x="1963" dy="16">48.5个词以上。</tspan></text></g>
<g id="b4-d5"><rect class="r4" x="1956" y="2777" width="262" height="78" rx="5"/><text class="t" x="1963" y="2796"><tspan x="1963" dy="0">2.让其训练的题材应多样化。包括日常生活、</tspan><tspan x="1963" dy="16">风俗习惯、人物传记、文化教育、社会、史地</tspan><tspan x="1963" dy="16">、科技、政治、经济等内容。不能只局限于某</tspan><tspan x="1963" dy="16">种题材。</tspan></text></g>
<g id="b4-d6"><rect class="r4" x="1956" y="2881" width="262" height="46" rx="5"/><text class="t" x="1963" y="2900"><tspan x="1963" dy="0">3.体裁多样化。包括说明文、记叙文、议论文</tspan><tspan x="1963" dy="16">、应用文等 。</tspan></text></g>
<g id="b4-d7"><rect class="r4" x="1956" y="2952" width="201" height="30" rx="5"/><text class="t" x="1963" y="2971">4.让其了解阅读理解的主要题型 。</text></g>
<g id="b4-d8"><rect class="r4" x="1956" y="3032" width="262" height="62" rx="5"/><text class="t" x="1963" y="3051"><tspan x="1963" dy="0">5.掌握必要的阅读理解解题技巧。 一般来说,</tspan><tspan x="1963" dy="16">对记叙文注意5W和1H;对描述文注意主要情</tspan><tspan x="1963" dy="16">节,对说明文或论证文要注意主旨句。</tspan></text></g>
<g id="b4-e1"><rect class="r4" x="2244" y="3008" width="262" height="110" rx="5"/><text class="t" x="2251" y="3027"><tspan x="2251" dy="0">另外,做阅读理解还要善于抓关键词语,如承接</tspan><tspan x="2251" dy="16">词and, besides, but, never, etc 。走进21世</tspan><tspan x="2251" dy="16">纪,社会对教师的素质要求更高,在今后的教育</tspan><tspan x="2251" dy="16">教学工作中,我将更严格要求自己,努力工作,发</tspan><tspan x="2251" dy="16">扬优点,改正缺点,开拓前进,为美好的明天贡献</tspan><tspan x="2251" dy="16">自己的力量。</tspan></text></g>

<g id="b6-items" class="t" style="font-size:13px">
<text x="1745" y="3163">★ 英语教学总结范文</text>
<text x="1745" y="3219">★ 英语教学反思与总结范文5篇</text>
<text x="1745" y="3275">★ 英语教学经验总结范文5篇</text>
<text x="1745" y="3331">★ 英语教师年度个人总结范文五篇</text>
<text x="1745" y="3387">★ 英语教师年度工作总结最新范文2020五篇</text>
<text x="1745" y="3442">★ 青年英语教师期末工作总结范本</text>
<text x="1745" y="3497">★ 英语教师工作总结最新范文</text>
<text x="1745" y="3553">★ 八年级英语教学总结范文</text>
<text x="1745" y="3609">★ 英语教学工作总结高中范文2021</text>
<text x="1745" y="3665">★ 七年级英语的教学总结范文</text>
</g>
</svg>
